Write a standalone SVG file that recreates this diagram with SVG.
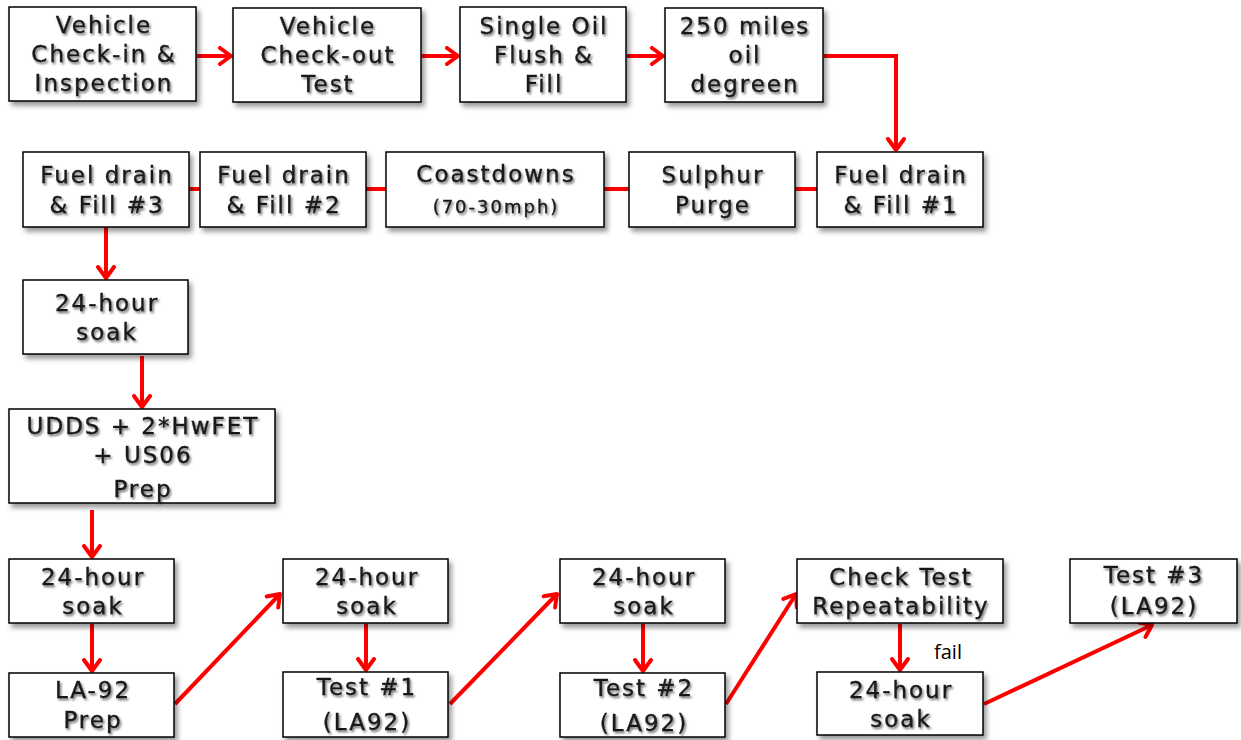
<svg xmlns="http://www.w3.org/2000/svg" width="1241" height="740" viewBox="0 0 1241 740">
<defs>
<filter id="bs" x="-10%" y="-10%" width="130%" height="140%"><feDropShadow dx="3" dy="4" stdDeviation="2.5" flood-color="#000" flood-opacity="0.4"/></filter>
<filter id="ts" x="-10%" y="-20%" width="130%" height="160%"><feDropShadow dx="1.5" dy="2" stdDeviation="1.3" flood-color="#000" flood-opacity="0.55"/></filter>
<marker id="ah" markerWidth="16" markerHeight="20" refX="13" refY="10" orient="auto" markerUnits="userSpaceOnUse"><path d="M2,2 L13,10 L2,18" fill="none" stroke="#ff0000" stroke-width="4" stroke-linecap="round" stroke-linejoin="round"/></marker>
</defs>
<style>
rect{fill:#fff;stroke:#000;stroke-width:1.5;filter:url(#bs)}
text{font-family:"DejaVu Sans",Verdana,sans-serif;font-size:23px;letter-spacing:2px;fill:#1a1a1a;stroke:#1a1a1a;stroke-width:0.35;text-anchor:middle;filter:url(#ts)}
.sm{font-size:18px}
.c{fill:none;stroke:#ff0000;stroke-width:4}
.a{marker-end:url(#ah)}
.lbl{font-family:"Open Sans","Liberation Sans",sans-serif;font-size:20px;letter-spacing:0;stroke:none;fill:#000;text-anchor:start;filter:none}
</style>
<rect width="1241" height="740" style="fill:#fff;stroke:none;filter:none"/>
<g id="connectors">
<line class="c a" x1="197" y1="56" x2="231" y2="56"/>
<line class="c a" x1="422" y1="56" x2="458" y2="56"/>
<line class="c a" x1="627" y1="56" x2="663" y2="56"/>
<polyline class="c a" points="824,56 896,56 896,150"/>
<line class="c" x1="189" y1="189" x2="200" y2="189"/>
<line class="c" x1="366" y1="189" x2="386" y2="189"/>
<line class="c" x1="604" y1="189" x2="629" y2="189"/>
<line class="c" x1="795" y1="189" x2="817" y2="189"/>
<line class="c a" x1="106" y1="227" x2="106" y2="278"/>
<line class="c a" x1="142" y1="356" x2="142" y2="407"/>
<line class="c a" x1="92" y1="510" x2="92" y2="557"/>
<line class="c a" x1="92" y1="624" x2="92" y2="671"/>
<line class="c a" x1="175" y1="704" x2="280" y2="594"/>
<line class="c a" x1="366" y1="624" x2="366" y2="670"/>
<line class="c a" x1="450" y1="704" x2="557" y2="594"/>
<line class="c a" x1="643" y1="624" x2="643" y2="671"/>
<line class="c a" x1="726" y1="704" x2="796" y2="594"/>
<line class="c a" x1="900" y1="624" x2="900" y2="670"/>
<line class="c a" x1="984" y1="704" x2="1152" y2="625"/>
<text class="lbl" x="934" y="659">fail</text>
</g>
<g id="n1"><rect x="9" y="7" width="187" height="94"/><text x="104" y="33">Vehicle</text><text x="104" y="62">Check-in &amp;</text><text x="104" y="91">Inspection</text></g>
<g id="n2"><rect x="233" y="8" width="188" height="94"/><text x="328" y="34">Vehicle</text><text x="328" y="63">Check-out</text><text x="328" y="92">Test</text></g>
<g id="n3"><rect x="460" y="7" width="166" height="95"/><text x="544" y="34">Single Oil</text><text x="544" y="63">Flush &amp;</text><text x="544" y="92">Fill</text></g>
<g id="n4"><rect x="665" y="8" width="158" height="94"/><text x="745" y="34">250 miles</text><text x="745" y="63">oil</text><text x="745" y="92">degreen</text></g>
<g id="n5"><rect x="817" y="152" width="166" height="75"/><text x="901" y="183">Fuel drain</text><text x="901" y="213">&amp; Fill #1</text></g>
<g id="n6"><rect x="629" y="152" width="166" height="75"/><text x="713" y="183">Sulphur</text><text x="713" y="213">Purge</text></g>
<g id="n7"><rect x="386" y="152" width="218" height="75"/><text x="496" y="182">Coastdowns</text><text class="sm" x="496" y="213">(70-30mph)</text></g>
<g id="n8"><rect x="200" y="152" width="166" height="75"/><text x="284" y="183">Fuel drain</text><text x="284" y="213">&amp; Fill #2</text></g>
<g id="n9"><rect x="23" y="152" width="166" height="75"/><text x="107" y="183">Fuel drain</text><text x="107" y="213">&amp; Fill #3</text></g>
<g id="n10"><rect x="23" y="280" width="165" height="74"/><text x="107" y="311">24-hour</text><text x="107" y="340">soak</text></g>
<g id="n11"><rect x="9" y="409" width="266" height="94"/><text x="143" y="434">UDDS + 2*HwFET</text><text x="143" y="463">+ US06</text><text x="143" y="497">Prep</text></g>
<g id="n12"><rect x="9" y="559" width="165" height="64"/><text x="93" y="585">24-hour</text><text x="93" y="614">soak</text></g>
<g id="n13"><rect x="9" y="673" width="165" height="64"/><text x="93" y="698">LA-92</text><text x="93" y="728">Prep</text></g>
<g id="n14"><rect x="283" y="559" width="165" height="64"/><text x="367" y="585">24-hour</text><text x="367" y="614">soak</text></g>
<g id="n15"><rect x="283" y="672" width="165" height="65"/><text x="367" y="695">Test #1</text><text x="367" y="730">(LA92)</text></g>
<g id="n16"><rect x="560" y="559" width="165" height="64"/><text x="644" y="585">24-hour</text><text x="644" y="614">soak</text></g>
<g id="n17"><rect x="560" y="673" width="165" height="64"/><text x="644" y="696">Test #2</text><text x="644" y="731">(LA92)</text></g>
<g id="n18"><rect x="797" y="559" width="206" height="64"/><text x="901" y="585">Check Test</text><text x="901" y="614">Repeatability</text></g>
<g id="n19"><rect x="817" y="672" width="166" height="63"/><text x="901" y="698">24-hour</text><text x="901" y="727">soak</text></g>
<g id="n20"><rect x="1070" y="559" width="167" height="64"/><text x="1154" y="583">Test #3</text><text x="1154" y="614">(LA92)</text></g>
</svg>
